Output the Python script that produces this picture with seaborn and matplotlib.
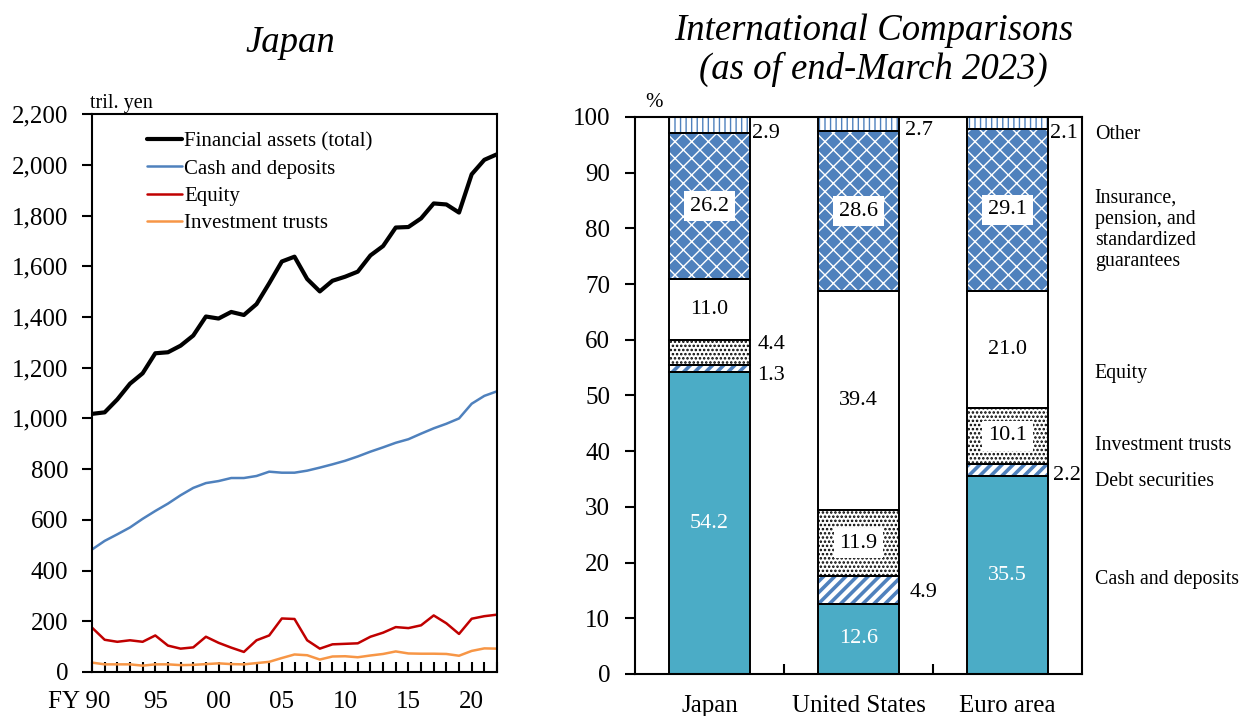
import numpy as np
import pandas as pd
import matplotlib.pyplot as plt
import matplotlib.transforms as mtransforms
import seaborn as sns
from matplotlib.patches import Rectangle
from matplotlib.ticker import FuncFormatter, MultipleLocator

# ---- data: Japan household financial assets, tril. yen (FY1990-FY2022)
years = list(range(1990, 2023))
financial_assets = [1018, 1024, 1075, 1137, 1178, 1257, 1261, 1287, 1327, 1402,
                    1394, 1420, 1408, 1451, 1533, 1619, 1638, 1550, 1501, 1543,
                    1559, 1579, 1643, 1680, 1753, 1755, 1789, 1848, 1844, 1812,
                    1963, 2020, 2042]
cash_deposits = [483, 517, 543, 570, 604, 635, 664, 697, 726, 745,
                 753, 765, 765, 773, 790, 786, 786, 794, 806, 819,
                 833, 850, 869, 886, 904, 918, 940, 961, 979, 1000,
                 1058, 1089, 1107]
equity = [175, 127, 119, 125, 119, 144, 104, 92, 97, 139,
          115, 96, 79, 125, 144, 211, 209, 125, 92, 109,
          111, 113, 139, 155, 177, 173, 184, 223, 192, 150,
          210, 220, 226]
investment_trusts = [37, 30, 30, 30, 25, 30, 30, 27, 28, 31,
                     34, 31, 30, 35, 40, 55, 69, 66, 49, 61,
                     62, 58, 65, 71, 81, 73, 72, 72, 71, 64,
                     83, 93, 92]

# ---- data: composition of household financial assets, % (end-March 2023)
countries = ["Japan", "United States", "Euro area"]
share_cash = [54.2, 12.6, 35.5]
share_debt = [1.3, 4.9, 2.2]
share_trusts = [4.4, 11.9, 10.1]
share_equity = [11.0, 39.4, 21.0]
share_insurance = [26.2, 28.6, 29.1]
share_other = [2.9, 2.7, 2.1]

sns.set_theme(style="ticks")
plt.rcParams["font.family"] = ["Liberation Serif", "DejaVu Serif"]
plt.rcParams["axes.edgecolor"] = "black"
plt.rcParams["axes.linewidth"] = 1.5
plt.rcParams["xtick.color"] = "black"
plt.rcParams["ytick.color"] = "black"
plt.rcParams["text.color"] = "black"
plt.rcParams["axes.labelcolor"] = "black"

fig = plt.figure(figsize=(12.4, 7.16), dpi=100)
ax1 = fig.add_axes([0.0742, 0.0615, 0.3266, 0.779])
ax2 = fig.add_axes([0.5121, 0.0587, 0.3605, 0.778])

# ================= left: Japan time series =================
sns.lineplot(x=years, y=financial_assets, color="black", linewidth=3.0,
             label="Financial assets (total)", ax=ax1)
sns.lineplot(x=years, y=cash_deposits, color="#4F81BD", linewidth=1.8,
             label="Cash and deposits", ax=ax1)
sns.lineplot(x=years, y=equity, color="#C00000", linewidth=1.8,
             label="Equity", ax=ax1)
sns.lineplot(x=years, y=investment_trusts, color="#F79646", linewidth=1.8,
             label="Investment trusts", ax=ax1)

ax1.set_xlim(1990, 2022)
ax1.set_ylim(0, 2200)
ax1.yaxis.set_major_locator(MultipleLocator(200))
ax1.yaxis.set_major_formatter(FuncFormatter(lambda v, p: f"{int(v):,}"))
major_years = list(range(1990, 2021, 5))
ax1.set_xticks(major_years)
ax1.set_xticklabels(["FY 90"] + [f"{y % 100:02d}" for y in major_years[1:]])
ax1.set_xticks(years, minor=True)
ax1.tick_params(axis="x", which="both", direction="in", length=7, width=1.5,
                labelsize=18, pad=14)
ax1.tick_params(axis="y", direction="out", length=7, width=1.5,
                labelsize=18, pad=10)
# "FY 90": keep the "90" under its tick
first = ax1.get_xticklabels()[0]
first.set_ha("right")
first.set_transform(first.get_transform() +
                    mtransforms.ScaledTranslation(0.18, 0, fig.dpi_scale_trans))
ax1.set_xlabel("")
ax1.set_ylabel("")
ax1.grid(False)
ax1.legend(loc="upper left", bbox_to_anchor=(0.135, 0.968), frameon=False,
           fontsize=15, handlelength=1.7, handletextpad=0.1,
           labelspacing=0.36, borderpad=0, borderaxespad=0)
ax1.text(-0.005, 1.02, "tril. yen", transform=ax1.transAxes,
         fontsize=14.5, va="center", ha="left")
fig.text(0.234, 0.94, "Japan", fontsize=26.5, style="italic",
         ha="center", va="center")

# ================= right: international comparison =================
segments = [
    ("Cash and deposits", share_cash, "#4BACC6", None, "#4BACC6", 1.0),
    ("Debt securities", share_debt, "white", "///", "#4F81BD", 2.6),
    ("Investment trusts", share_trusts, "white", "....", "black", 1.2),
    ("Equity", share_equity, "white", None, "white", 1.0),
    ("Insurance", share_insurance, "#4F81BD", "xx", "white", 1.0),
    ("Other", share_other, "white", "|||", "#4F81BD", 1.0),
]

bottoms = np.zeros(len(countries))
seg_bottoms = []
for name, vals, face, hatch, hcol, hlw in segments:
    with plt.rc_context({"hatch.linewidth": hlw}):
        n_before = len(ax2.patches)
        sns.barplot(x=countries, y=vals, bottom=bottoms, color=face,
                    saturation=1, edgecolor=hcol, linewidth=0, hatch=hatch,
                    width=0.55, errorbar=None, ax=ax2)
        for p in ax2.patches[n_before:]:
            if hasattr(p, "set_hatch_linewidth"):
                p.set_hatch_linewidth(hlw)
    seg_bottoms.append(bottoms.copy())
    bottoms = bottoms + np.array(vals)

# black outlines on every segment
for p in list(ax2.patches):
    ax2.add_patch(Rectangle(p.get_xy(), p.get_width(), p.get_height(),
                            fill=False, edgecolor="black", linewidth=1.4,
                            zorder=3))

# value labels
inside_style = {
    "Cash and deposits": dict(color="white"),
    "Equity": dict(color="black"),
    "Insurance": dict(color="black",
                      bbox=dict(boxstyle="square,pad=0.25", fc="white", ec="none")),
    "Investment trusts": dict(color="black",
                              bbox=dict(boxstyle="square,pad=0.25", fc="white", ec="none")),
}
outside_pos = {
    ("Other", 0): (0.285, 97.1), ("Other", 1): (1.312, 97.5), ("Other", 2): (2.285, 97.1),
    ("Debt securities", 0): (0.32, 53.5), ("Investment trusts", 0): (0.326, 59.1),
    ("Debt securities", 1): (1.346, 14.7), ("Debt securities", 2): (2.305, 35.7),
}
for (name, vals, *_), bot in zip(segments, seg_bottoms):
    for i, v in enumerate(vals):
        if (name, i) in outside_pos:
            x, y = outside_pos[(name, i)]
            ax2.text(x, y, f"{v:.1f}", fontsize=16, ha="left", va="center",
                     zorder=5)
        else:
            ax2.text(i, bot[i] + v / 2, f"{v:.1f}", fontsize=16, ha="center",
                     va="center", zorder=5, **inside_style[name])

ax2.set_xlim(-0.5, 2.5)
ax2.set_ylim(0, 100)
ax2.yaxis.set_major_locator(MultipleLocator(10))
ax2.set_xticks([0, 1, 2])
ax2.set_xticklabels(countries)
ax2.set_xticks([0.5, 1.5], minor=True)
ax2.tick_params(axis="x", which="major", length=0, labelsize=18, pad=15)
ax2.tick_params(axis="x", which="minor", direction="in", length=7, width=1.5)
ax2.tick_params(axis="y", direction="out", length=7, width=1.5,
                labelsize=18, pad=11)
ax2.set_xlabel("")
ax2.set_ylabel("")
ax2.grid(False)
for s in ax2.spines.values():
    s.set_visible(True)
    s.set_zorder(6)
ax2.text(0.0425, 1.025, "%", transform=ax2.transAxes, fontsize=15,
         ha="center", va="center")

category_labels = [
    ("Other", 96.8),
    ("Insurance,\npension, and\nstandardized\nguarantees", 79.7),
    ("Equity", 54.0),
    ("Investment trusts", 41.1),
    ("Debt securities", 34.5),
    ("Cash and deposits", 17.0),
]
for txt, y in category_labels:
    ax2.text(2.585, y, txt, fontsize=14.3, ha="left", va="center",
             linespacing=1.15, clip_on=False)

fig.text(0.7045, 0.93, "International Comparisons\n(as of end-March 2023)",
         fontsize=26.5, style="italic", ha="center", va="center",
         linespacing=1.15)

fig.savefig("out.png", dpi=100)
